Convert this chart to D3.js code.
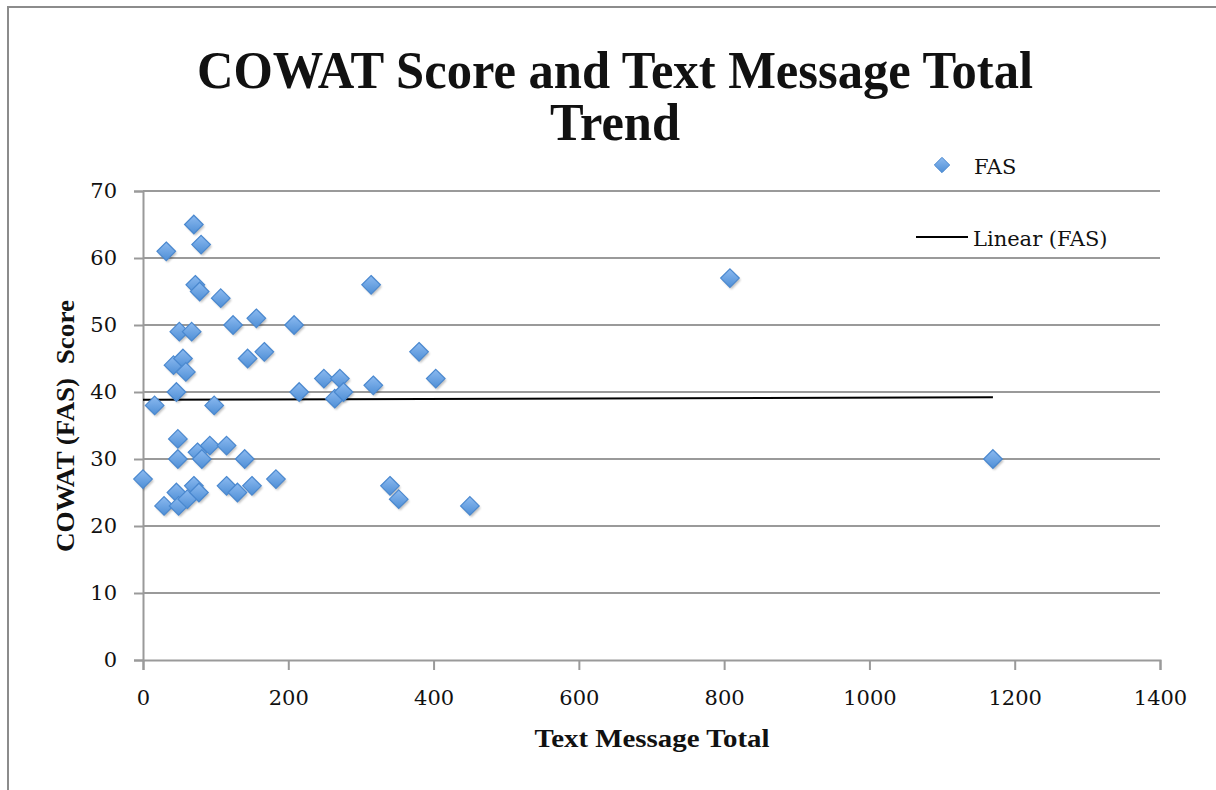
<!DOCTYPE html>
<html>
<head>
<meta charset="utf-8">
<script src="https://cdn.jsdelivr.net/npm/d3@7"></script>
<style>
  html, body { margin: 0; padding: 0; background: #fff; }
  svg { display: block; }
  text { font-family: "Liberation Serif", "DejaVu Serif", serif; fill: #111; }
</style>
</head>
<body>
<svg id="chart" width="1216" height="790"></svg>
<script>
// Text message totals (x) and COWAT FAS scores (y) per participant
const textTotals = [0, 16, 32, 29, 42, 46, 50, 55, 59, 48, 48, 46, 49, 61, 70, 80, 72, 78, 67, 70,
  77, 75, 81, 92, 98, 107, 124, 115, 115, 130, 144, 140, 150, 156, 167, 183, 208, 215, 249, 264,
  271, 276, 314, 317, 340, 352, 380, 403, 450, 808, 1170];
const fasScores = [27, 38, 61, 23, 44, 40, 49, 45, 43, 33, 30, 25, 23, 24, 65, 62, 56, 55, 49, 26,
  25, 31, 30, 32, 38, 54, 50, 32, 26, 25, 45, 30, 26, 51, 46, 27, 50, 40, 42, 39,
  42, 40, 56, 41, 26, 24, 46, 42, 23, 57, 30];

// Linear trend (FAS): intercept and slope
const trendIntercept = 38.85;
const trendSlope = 0.0003;

const xTicks = [0, 200, 400, 600, 800, 1000, 1200, 1400];
const yTicks = [0, 10, 20, 30, 40, 50, 60, 70];

const titleLines = ["COWAT Score and Text Message Total", "Trend"];
const xTitle = "Text Message Total";
const yTitle = "COWAT (FAS)  Score";
const seriesName = "FAS";
const trendName = "Linear (FAS)";

const points = textTotals.map((t, i) => ({ x: t, y: fasScores[i] }));

const svg = d3.select("#chart");
const plot = { left: 143, right: 1160, top: 191, bottom: 660 };

const x = d3.scaleLinear().domain([0, 1400]).range([plot.left, plot.right]);
const y = d3.scaleLinear().domain([0, 70]).range([plot.bottom, plot.top]);

const gridColor = "#9a9a9a";
const labelFont = '"DejaVu Serif", "Liberation Serif", serif';

// chart frame
svg.append("rect")
  .attr("x", 8).attr("y", 7).attr("width", 1300).attr("height", 900)
  .attr("fill", "none").attr("stroke", "#8c8c8c").attr("stroke-width", 2);

// gradient for the diamond markers
const defs = svg.append("defs");
const grad = defs.append("linearGradient").attr("id", "diamondFill")
  .attr("x1", 0).attr("y1", 0).attr("x2", 0).attr("y2", 1);
grad.append("stop").attr("offset", "0%").attr("stop-color", "#8cbaf0");
grad.append("stop").attr("offset", "100%").attr("stop-color", "#4f8fd6");
const blur = defs.append("filter").attr("id", "shadow")
  .attr("x", "-50%").attr("y", "-50%").attr("width", "200%").attr("height", "200%");
blur.append("feGaussianBlur").attr("stdDeviation", 1.2);

// horizontal gridlines
svg.append("g")
  .selectAll("line")
  .data(yTicks.filter(d => d > 0))
  .join("line")
  .attr("x1", plot.left).attr("x2", plot.right)
  .attr("y1", d => y(d)).attr("y2", d => y(d))
  .attr("stroke", gridColor).attr("stroke-width", 2);

// y axis
const yAxis = svg.append("g")
  .attr("transform", `translate(${plot.left},0)`)
  .call(d3.axisLeft(y).tickValues(yTicks).tickFormat(d3.format("d")).tickSize(9).tickPadding(17));
yAxis.select(".domain").attr("stroke", gridColor).attr("stroke-width", 2);
yAxis.selectAll(".tick line").attr("stroke", gridColor).attr("stroke-width", 2);
yAxis.selectAll(".tick text")
  .style("font-family", labelFont)
  .style("font-size", "21px").attr("fill", "#111");

// x axis
const xAxis = svg.append("g")
  .attr("transform", `translate(0,${plot.bottom})`)
  .call(d3.axisBottom(x).tickValues(xTicks).tickFormat(d3.format("d")).tickSize(10).tickPadding(20));
xAxis.select(".domain").attr("stroke", gridColor).attr("stroke-width", 2);
xAxis.selectAll(".tick line").attr("stroke", gridColor).attr("stroke-width", 2);
xAxis.selectAll(".tick text")
  .style("font-family", labelFont)
  .style("font-size", "21px").attr("fill", "#111");

// trend line
const xMin = d3.min(textTotals), xMax = d3.max(textTotals);
const trend = [xMin, xMax].map(v => ({ x: v, y: trendIntercept + trendSlope * v }));
svg.append("path")
  .datum(trend)
  .attr("d", d3.line().x(d => x(d.x)).y(d => y(d.y)))
  .attr("stroke", "#000").attr("stroke-width", 2).attr("fill", "none");

// diamond markers
const diamond = d3.symbol().type(d3.symbolDiamond2).size(220);
const marks = svg.append("g");
marks.selectAll("path.shadow")
  .data(points)
  .join("path")
  .attr("class", "shadow")
  .attr("d", diamond)
  .attr("transform", d => `translate(${x(d.x) + 1.5},${y(d.y) + 2})`)
  .attr("fill", "#000").attr("opacity", 0.25)
  .attr("filter", "url(#shadow)");
marks.selectAll("path.pt")
  .data(points)
  .join("path")
  .attr("class", "pt")
  .attr("d", diamond)
  .attr("transform", d => `translate(${x(d.x)},${y(d.y)})`)
  .attr("fill", "url(#diamondFill)")
  .attr("stroke", "#4a88cf").attr("stroke-width", 1.2);

// title
svg.append("g").selectAll("text")
  .data(titleLines)
  .join("text")
  .attr("x", 615).attr("y", (d, i) => 88 + i * 52)
  .attr("text-anchor", "middle")
  .attr("textLength", (d, i) => i === 0 ? 836 : 130)
  .attr("lengthAdjust", "spacingAndGlyphs")
  .style("font-size", "52px").style("font-weight", "bold")
  .text(d => d);

// axis titles
svg.append("text")
  .attr("x", 652).attr("y", 747)
  .attr("text-anchor", "middle")
  .attr("textLength", 235)
  .attr("lengthAdjust", "spacingAndGlyphs")
  .style("font-size", "26px").style("font-weight", "bold")
  .text(xTitle);

svg.append("text")
  .attr("transform", `translate(74,426) rotate(-90)`)
  .attr("text-anchor", "middle")
  .attr("xml:space", "preserve")
  .attr("textLength", 252)
  .attr("lengthAdjust", "spacingAndGlyphs")
  .style("white-space", "pre")
  .style("font-size", "26px").style("font-weight", "bold")
  .text(yTitle);

// legend
const legend = svg.append("g");
legend.append("path")
  .attr("d", d3.symbol().type(d3.symbolDiamond2).size(150))
  .attr("transform", "translate(942,165)")
  .attr("fill", "url(#diamondFill)")
  .attr("stroke", "#4a88cf").attr("stroke-width", 1);
legend.append("text")
  .attr("x", 974).attr("y", 174)
  .style("font-family", labelFont)
  .style("font-size", "21px")
  .text(seriesName);
legend.append("line")
  .attr("x1", 916).attr("x2", 968).attr("y1", 237).attr("y2", 237)
  .attr("stroke", "#000").attr("stroke-width", 2);
legend.append("text")
  .attr("x", 973).attr("y", 246)
  .style("font-family", labelFont)
  .style("font-size", "21px")
  .text(trendName);
</script>
</body>
</html>
